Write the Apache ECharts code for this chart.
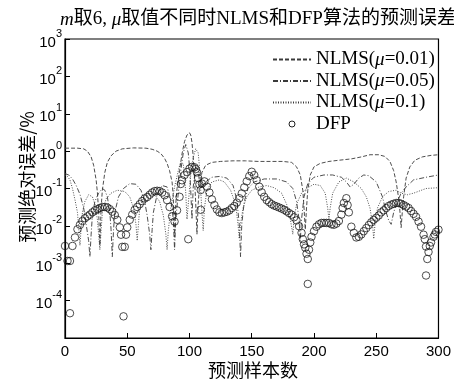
<!DOCTYPE html>
<html><head><meta charset="utf-8">
<script src="https://cdn.jsdelivr.net/npm/echarts@6/dist/echarts.min.js"></script>
<style>html,body{margin:0;padding:0;background:#fff}#c{width:454px;height:382px}</style>
</head><body><div id="c"></div>
<script>
// ---- data (x = sample index, y = absolute error %) ----
var xTicks = [0, 50, 100, 150, 200, 250, 300];
var yTickExponents = [-5, -4, -3, -2, -1, 0, 1, 2, 3];
var seriesNames = ['NLMS(μ=0.01)', 'NLMS(μ=0.05)', 'NLMS(μ=0.1)', 'DFP'];

var nlms001 = [[0,1.2],[5,1.2],[10,1.2],[15,1.15],[18,1.0],[21,0.7],[23,0.42],[25,0.17],[26,0.08],[27,0.025],[28,0.003],[29,0.03],[30,0.09],[32,0.27],[34,0.5],[37,0.75],[41,1.0],[46,1.15],[55,1.22],[65,1.2],[70,1.12],[74,1.0],[77,0.86],[80,0.64],[82,0.47],[84,0.3],[86,0.15],[87,0.06],[88,0.005],[89,0.04],[90,0.1],[92,0.3],[94,0.85],[96,1.8],[98,2.7],[100,3.1],[101,2.7],[102,1.7],[103,0.7],[104,0.2],[105,0.04],[106,0.006],[107,0.04],[108,0.11],[110,0.27],[113,0.42],[118,0.5],[125,0.53],[135,0.55],[145,0.55],[155,0.53],[165,0.53],[175,0.53],[182,0.5],[186,0.38],[189,0.23],[191,0.09],[192,0.03],[193,0.008],[194,0.03],[195,0.09],[197,0.23],[200,0.38],[205,0.47],[212,0.53],[220,0.57],[230,0.62],[238,0.7],[245,0.8],[252,0.8],[257,0.72],[261,0.53],[264,0.3],[266,0.15],[268,0.055],[269,0.025],[270,0.009],[271,0.025],[272,0.06],[274,0.19],[277,0.38],[281,0.57],[287,0.7],[294,0.77],[300,0.8]];

var nlms005 = [[0,0.25],[3,0.23],[6,0.18],[9,0.12],[12,0.07],[15,0.03],[17,0.011],[19,0.004],[20,0.0015],[21,0.006],[22,0.019],[24,0.045],[27,0.075],[30,0.1],[32,0.09],[34,0.06],[36,0.023],[37,0.008],[38,0.0015],[39,0.008],[40,0.023],[43,0.06],[47,0.1],[52,0.135],[57,0.13],[61,0.09],[64,0.045],[66,0.019],[68,0.006],[69,0.0023],[70,0.008],[71,0.023],[74,0.07],[78,0.12],[82,0.11],[85,0.05],[87,0.015],[88,0.0023],[89,0.015],[91,0.075],[93,0.3],[95,0.9],[97,1.5],[99,0.9],[100,0.38],[101,0.09],[102,0.015],[103,0.11],[105,0.38],[106,0.42],[107,0.3],[108,0.15],[110,0.11],[113,0.15],[118,0.2],[124,0.21],[130,0.19],[135,0.12],[138,0.05],[140,0.011],[141,0.0015],[142,0.011],[144,0.045],[147,0.1],[152,0.15],[160,0.18],[170,0.18],[178,0.15],[183,0.1],[186,0.045],[188,0.015],[189,0.004],[190,0.015],[192,0.06],[195,0.135],[200,0.2],[208,0.23],[215,0.23],[222,0.2],[226,0.15],[229,0.11],[232,0.13],[236,0.19],[240,0.23],[244,0.22],[250,0.15],[255,0.06],[258,0.023],[260,0.014],[262,0.011],[264,0.023],[267,0.045],[270,0.075],[274,0.11],[280,0.17],[290,0.2],[300,0.23]];

var nlms01 = [[0,0.23],[2,0.21],[4,0.17],[6,0.1],[8,0.05],[10,0.023],[11,0.009],[12,0.003],[13,0.009],[14,0.023],[16,0.045],[19,0.068],[22,0.06],[24,0.038],[26,0.015],[27,0.006],[28,0.0023],[29,0.0075],[30,0.023],[33,0.053],[37,0.075],[42,0.09],[48,0.083],[52,0.06],[55,0.03],[57,0.011],[58,0.004],[59,0.011],[60,0.03],[63,0.06],[67,0.075],[72,0.068],[76,0.045],[79,0.019],[81,0.006],[82,0.0023],[83,0.0075],[85,0.03],[88,0.11],[91,0.3],[93,0.53],[95,0.45],[96,0.23],[97,0.075],[98,0.015],[99,0.038],[101,0.23],[103,0.68],[105,1.15],[106,1.2],[107,0.9],[108,0.38],[109,0.09],[110,0.023],[111,0.0075],[112,0.03],[114,0.09],[118,0.15],[124,0.17],[128,0.15],[133,0.09],[137,0.038],[139,0.011],[140,0.0045],[141,0.011],[143,0.03],[146,0.06],[150,0.09],[156,0.11],[162,0.12],[168,0.105],[174,0.075],[178,0.038],[181,0.015],[183,0.006],[184,0.015],[186,0.038],[190,0.075],[195,0.105],[200,0.13],[205,0.12],[209,0.075],[211,0.03],[212,0.015],[213,0.03],[215,0.075],[220,0.15],[226,0.19],[232,0.15],[238,0.1],[242,0.06],[245,0.03],[247,0.011],[248,0.0045],[249,0.011],[251,0.03],[255,0.06],[260,0.083],[266,0.09],[270,0.075],[275,0.068],[280,0.075],[290,0.1],[300,0.105]];

var dfp = [[0,2.9e-3],[2,1.15e-3],[4,1.15e-3],[6,2.9e-3],[8,4.9e-3],[10,8.1e-3],[12,1.07e-2],[14,1.35e-2],[16,1.6e-2],[18,1.8e-2],[20,2.0e-2],[22,2.3e-2],[24,2.6e-2],[26,2.8e-2],[28,3.0e-2],[30,3.2e-2],[32,3.2e-2],[34,3.1e-2],[36,2.8e-2],[38,2.4e-2],[40,1.95e-2],[42,1.45e-2],[44,9.1e-3],[45,5.8e-3],[46,2.75e-3],[48,2.75e-3],[49,5.8e-3],[50,9.1e-3],[52,1.45e-2],[54,2.0e-2],[56,2.7e-2],[58,3.2e-2],[60,3.8e-2],[62,4.6e-2],[64,5.4e-2],[66,5.9e-2],[68,6.8e-2],[70,7.8e-2],[72,8.5e-2],[74,8.7e-2],[76,8.5e-2],[78,7.8e-2],[80,6.6e-2],[82,4.9e-2],[84,3.2e-2],[86,1.8e-2],[88,1.3e-2],[90,2.6e-2],[92,6.0e-2],[93,0.132],[94,0.166],[96,0.229],[98,0.275],[100,0.34],[102,0.38],[104,0.37],[105,0.33],[106,0.27],[107,0.19],[108,0.129],[109,9.1e-2],[110,0.135],[112,0.155],[114,0.112],[116,7.8e-2],[118,5.1e-2],[120,3.6e-2],[122,2.75e-2],[124,2.3e-2],[126,2.2e-2],[128,2.3e-2],[130,2.4e-2],[132,2.6e-2],[134,3.0e-2],[136,3.4e-2],[138,4.2e-2],[140,5.5e-2],[142,7.4e-2],[144,0.107],[146,0.155],[148,0.214],[150,0.28],[152,0.229],[154,0.166],[156,0.112],[158,7.9e-2],[160,6.0e-2],[162,4.9e-2],[164,4.3e-2],[166,3.8e-2],[168,3.5e-2],[170,3.3e-2],[172,3.1e-2],[174,2.9e-2],[176,2.7e-2],[178,2.45e-2],[180,2.2e-2],[182,2.0e-2],[184,1.7e-2],[186,1.4e-2],[188,9.8e-3],[190,6.5e-3],[191,4.4e-3],[192,3.2e-3],[193,2.6e-3],[194,1.8e-3],[195,1.3e-3],[196,2.3e-3],[197,3.6e-3],[198,5.1e-3],[200,7.2e-3],[202,9.5e-3],[204,1.1e-2],[206,1.2e-2],[208,1.2e-2],[210,1.2e-2],[212,1.2e-2],[214,1.1e-2],[216,1.07e-2],[218,1.15e-2],[220,1.35e-2],[222,2.0e-2],[223,3.0e-2],[224,4.1e-2],[226,5.5e-2],[227,3.6e-2],[228,2.3e-2],[230,9.5e-3],[232,6.5e-3],[234,4.9e-3],[236,5.1e-3],[238,5.9e-3],[240,7.2e-3],[242,8.7e-3],[244,1.05e-2],[246,1.25e-2],[248,1.45e-2],[250,1.65e-2],[252,1.9e-2],[254,2.3e-2],[256,2.6e-2],[258,3.0e-2],[260,3.4e-2],[262,3.7e-2],[264,3.9e-2],[266,4.1e-2],[268,4.1e-2],[270,3.9e-2],[272,3.6e-2],[274,3.3e-2],[276,3.0e-2],[278,2.5e-2],[280,2.1e-2],[282,1.75e-2],[284,1.3e-2],[286,9.5e-3],[288,5.8e-3],[289,4.4e-3],[290,2.8e-3],[291,1.3e-3],[292,2.0e-3],[293,2.9e-3],[294,3.6e-3],[296,5.1e-3],[297,5.9e-3],[298,6.9e-3],[300,7.9e-3]];
var dfpOutliers = [[4,4.6e-5],[47,3.8e-5],[99,4.4e-3],[109,2.7e-2],[195,2.8e-4],[290,4.7e-4]];

var titleText = '{i|m}取6, {i|μ}取值不同时NLMS和DFP算法的预测误差';
var xName = '预测样本数';
var yName = '预测绝对误差/%';

// ---- chart ----
var chart = echarts.init(document.getElementById('c'), null, {renderer: 'canvas'});
var serif = '"Liberation Serif","Noto Sans CJK SC",serif';
var sans = '"Liberation Sans",Arial,sans-serif';
var cjk = '"Noto Sans CJK SC",sans-serif';
var lineColor = '#3a3a3a';
var circleStyle = {color: 'rgba(0,0,0,0)', borderColor: '#151515', borderWidth: 0.95};

chart.setOption({
  animation: false,
  backgroundColor: '#fff',
  title: {
    text: titleText, left: 55, top: 5,
    textStyle: {fontFamily: serif, fontSize: 19, fontWeight: 'normal', color: '#000',
      rich: {i: {fontFamily: serif, fontSize: 19, fontStyle: 'italic', color: '#000'}}}
  },
  legend: {
    orient: 'vertical', left: 267, top: 45, itemWidth: 38, itemHeight: 6, itemGap: 2.5,
    itemStyle: {opacity: 0},
    data: [
      {name: seriesNames[0]}, {name: seriesNames[1]}, {name: seriesNames[2]},
      {name: seriesNames[3], itemStyle: {opacity: 1, color: 'rgba(0,0,0,0)', borderColor: '#151515', borderWidth: 0.95}}
    ],
    formatter: function (n) { return n.replace('μ', '{i|μ}'); },
    textStyle: {fontFamily: serif, fontSize: 19, color: '#000', lineHeight: 19,
      rich: {i: {fontFamily: serif, fontSize: 19, fontStyle: 'italic', color: '#000', lineHeight: 19}}}
  },
  grid: {left: 65, right: 12, top: 39, bottom: 44, show: true, borderColor: '#000', borderWidth: 1.2, backgroundColor: 'transparent'},
  xAxis: {
    type: 'value', min: xTicks[0], max: xTicks[xTicks.length - 1], interval: 50,
    axisLine: {lineStyle: {color: '#000', width: 1.2}},
    axisTick: {inside: true, length: 5, lineStyle: {color: '#000'}},
    axisLabel: {fontFamily: sans, fontSize: 15, color: '#000', margin: 6},
    splitLine: {show: false}
  },
  yAxis: {
    type: 'log', logBase: 10,
    min: Math.pow(10, yTickExponents[0]), max: Math.pow(10, yTickExponents[yTickExponents.length - 1]),
    splitNumber: 8,
    axisLine: {lineStyle: {color: '#000', width: 1.2}},
    axisTick: {inside: true, length: 5, lineStyle: {color: '#000'}},
    minorTick: {show: false},
    axisLabel: {
      margin: 3, color: '#000', fontFamily: sans,
      formatter: function (v) {
        var e = Math.round(Math.log10(v));
        if (e === yTickExponents[0]) return '';
        return '{b|10}{s|' + e + '}';
      },
      rich: {
        b: {fontFamily: sans, fontSize: 15, color: '#000', verticalAlign: 'bottom', lineHeight: 22},
        s: {fontFamily: sans, fontSize: 11, color: '#000', verticalAlign: 'top', lineHeight: 22}
      }
    },
    splitLine: {show: false}
  },
  graphic: [
    {type: 'text', x: 253, y: 370, style: {text: xName, font: '18px ' + cjk, fill: '#000', align: 'center', verticalAlign: 'middle'}},
    {type: 'text', x: 27, y: 177, rotation: Math.PI / 2, style: {text: yName, font: '18px ' + cjk, fill: '#000', align: 'center', verticalAlign: 'middle'}}
  ],
  series: [
    {name: seriesNames[0], type: 'line', data: nlms001, symbol: 'none', z: 2,
      lineStyle: {color: lineColor, width: 0.9, type: [4, 2]}, itemStyle: {color: lineColor}},
    {name: seriesNames[1], type: 'line', data: nlms005, symbol: 'none', z: 2,
      lineStyle: {color: lineColor, width: 0.9, type: [5, 2, 1, 2]}, itemStyle: {color: lineColor}},
    {name: seriesNames[2], type: 'line', data: nlms01, symbol: 'none', z: 2,
      lineStyle: {color: lineColor, width: 0.9, type: [1, 1.5]}, itemStyle: {color: lineColor}},
    {name: seriesNames[3], type: 'scatter', data: dfp.concat(dfpOutliers), symbol: 'circle', symbolSize: 7.5, z: 3,
      itemStyle: circleStyle}
  ]
});
</script>
</body></html>
